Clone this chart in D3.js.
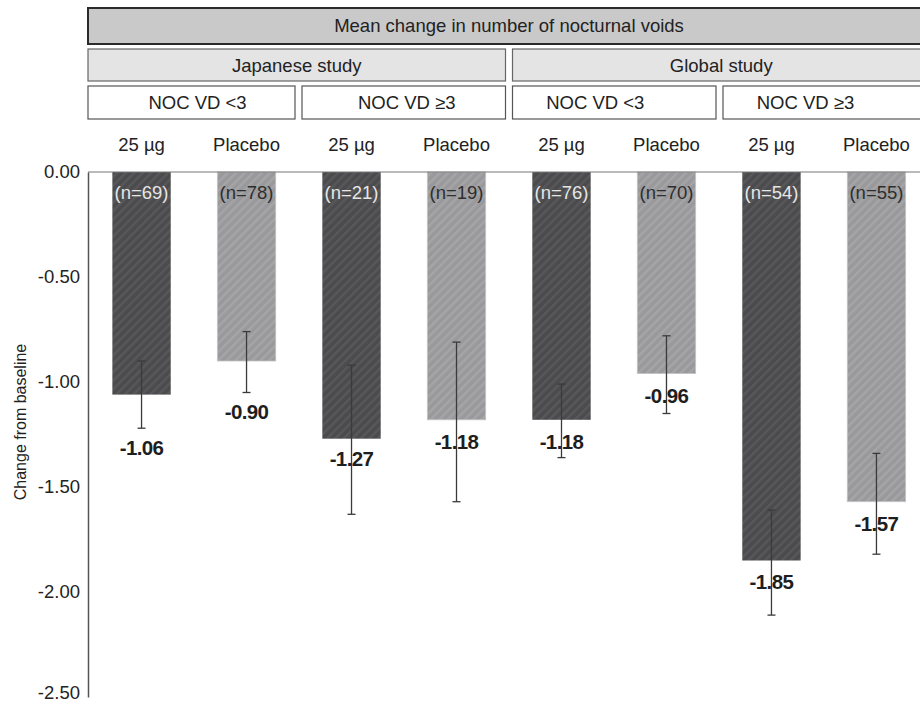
<!DOCTYPE html>
<html>
<head>
<meta charset="utf-8">
<script src="https://cdn.jsdelivr.net/npm/d3@7"></script>
<style>
  html, body { margin: 0; padding: 0; background: #fff; }
  svg { display: block; font-family: "Liberation Sans", Arial, Helvetica, sans-serif; }
</style>
</head>
<body>
<svg id="chart" width="920" height="705"></svg>
<script>
// ---------------- data ----------------
const title = "Mean change in number of nocturnal voids";
const studies = ["Japanese study", "Global study"];
const subgroups = ["NOC VD <3", "NOC VD \u22653", "NOC VD <3", "NOC VD \u22653"];
const categories = ["25 \u00b5g", "Placebo", "25 \u00b5g", "Placebo", "25 \u00b5g", "Placebo", "25 \u00b5g", "Placebo"];
const treatment = ["active", "placebo", "active", "placebo", "active", "placebo", "active", "placebo"];
const values = [-1.06, -0.90, -1.27, -1.18, -1.18, -0.96, -1.85, -1.57];
const errTop = [-0.90, -0.76, -0.92, -0.81, -1.01, -0.78, -1.61, -1.34];
const errBottom = [-1.22, -1.05, -1.63, -1.57, -1.36, -1.15, -2.11, -1.82];
const nLabels = ["(n=69)", "(n=78)", "(n=21)", "(n=19)", "(n=76)", "(n=70)", "(n=54)", "(n=55)"];
const yTicks = [0, -0.5, -1, -1.5, -2, -2.5];
const yTitle = "Change from baseline";

// ---------------- layout ----------------
const svg = d3.select("#chart");
const left = 88, right = 930, top0 = 172, bottom0 = 697;
const idx = d3.range(values.length);

const x = d3.scaleBand().domain(idx).range([left, right]).paddingInner(0.444).paddingOuter(0.232);
const y = d3.scaleLinear().domain([0, -2.5]).range([top0, bottom0]);

// patterns
const defs = svg.append("defs");
function hatch(id, base, stripe) {
  const p = defs.append("pattern").attr("id", id).attr("patternUnits", "userSpaceOnUse")
    .attr("width", 6).attr("height", 6).attr("patternTransform", "rotate(45)");
  p.append("rect").attr("width", 6).attr("height", 6).attr("fill", base);
  p.append("rect").attr("width", 2.4).attr("height", 6).attr("fill", stripe);
}
hatch("hatchDark", "#4b4b4d", "#58585a");
hatch("hatchLight", "#99999c", "#a5a5a8");

// ---------------- header boxes ----------------
const span = right - left;
svg.append("rect").attr("x", left).attr("y", 8).attr("width", span).attr("height", 36)
  .attr("fill", "#c9c9c9").attr("stroke", "#2b2b2b").attr("stroke-width", 2);
svg.append("text").attr("x", left + span / 2).attr("y", 26).attr("dy", "0.35em")
  .attr("text-anchor", "middle").attr("font-size", 18.5).attr("fill", "#222").text(title);

const gap = 7;
const W2 = span / studies.length;
studies.forEach((s, i) => {
  const x0 = left + i * W2 + (i > 0 ? gap / 2 : 0);
  const x1 = left + (i + 1) * W2 - (i < studies.length - 1 ? gap / 2 : 0);
  svg.append("rect").attr("x", x0).attr("y", 49).attr("width", x1 - x0).attr("height", 32)
    .attr("fill", "#e4e4e4").attr("stroke", "#666").attr("stroke-width", 1.2);
  svg.append("text").attr("x", (x0 + x1) / 2).attr("y", 66).attr("dy", "0.35em")
    .attr("text-anchor", "middle").attr("font-size", 18.5).attr("fill", "#222").text(s);
});

const W4 = span / subgroups.length;
const subTextShift = [6, 3, -19, -21];
subgroups.forEach((s, i) => {
  const x0 = left + i * W4 + (i > 0 ? gap / 2 : 0);
  const x1 = left + (i + 1) * W4 - (i < subgroups.length - 1 ? gap / 2 : 0);
  svg.append("rect").attr("x", x0).attr("y", 86).attr("width", x1 - x0).attr("height", 33)
    .attr("fill", "#fff").attr("stroke", "#555").attr("stroke-width", 1.2);
  svg.append("text").attr("x", (x0 + x1) / 2 + subTextShift[i]).attr("y", 103).attr("dy", "0.35em")
    .attr("text-anchor", "middle").attr("font-size", 18.5).attr("fill", "#222").text(s);
});

svg.append("g").selectAll("text").data(idx).join("text")
  .attr("x", i => x(i) + x.bandwidth() / 2).attr("y", 145).attr("dy", "0.35em")
  .attr("text-anchor", "middle").attr("font-size", 18.5).attr("fill", "#222")
  .text(i => categories[i]);

// ---------------- bars ----------------
svg.append("g").selectAll("rect").data(idx).join("rect")
  .attr("x", i => x(i)).attr("y", y(0))
  .attr("width", x.bandwidth())
  .attr("height", i => y(values[i]) - y(0))
  .attr("fill", i => treatment[i] === "active" ? "url(#hatchDark)" : "url(#hatchLight)")
  .attr("stroke", i => treatment[i] === "active" ? "none" : "#c4c4c6")
  .attr("stroke-width", 0.8);

svg.append("line").attr("x1", left).attr("x2", right).attr("y1", y(0)).attr("y2", y(0))
  .attr("stroke", "#777").attr("stroke-width", 1.2);

const yAxis = d3.axisLeft(y).tickValues(yTicks).tickSize(0).tickSizeOuter(0).tickPadding(8)
  .tickFormat(d => d.toFixed(2));
const ag = svg.append("g").attr("transform", `translate(${left},0)`).call(yAxis);
ag.select(".domain").attr("stroke", "#555").attr("stroke-width", 1.5);
ag.selectAll("text").attr("font-size", 18.5).attr("fill", "#222")
  .attr("dy", d => d === -2.5 ? "0.1em" : "0.28em")
  .attr("font-family", "'Liberation Sans', Arial, sans-serif");

svg.append("text").attr("transform", `translate(20,422) rotate(-90)`)
  .attr("text-anchor", "middle").attr("dy", "0.35em").attr("font-size", 16).attr("fill", "#222")
  .text(yTitle);

svg.append("g").selectAll("text").data(idx).join("text")
  .attr("x", i => x(i) + x.bandwidth() / 2).attr("y", 193).attr("dy", "0.35em")
  .attr("text-anchor", "middle").attr("font-size", 18.5)
  .attr("fill", i => treatment[i] === "active" ? "#e6e6e6" : "#2e2e2e")
  .text(i => nLabels[i]);

const eg = svg.append("g").attr("stroke", "#3a3a3a").attr("stroke-width", 1.3);
idx.forEach(i => {
  const cx = x(i) + x.bandwidth() / 2;
  eg.append("line").attr("x1", cx).attr("x2", cx).attr("y1", y(errTop[i])).attr("y2", y(errBottom[i]));
  eg.append("line").attr("x1", cx - 4).attr("x2", cx + 4).attr("y1", y(errTop[i])).attr("y2", y(errTop[i]));
  eg.append("line").attr("x1", cx - 4).attr("x2", cx + 4).attr("y1", y(errBottom[i])).attr("y2", y(errBottom[i]));
});

const labelDy = [53, 51, 20, 22, 22, 22, 21, 22];
svg.append("g").selectAll("text").data(idx).join("text")
  .attr("x", i => x(i) + x.bandwidth() / 2)
  .attr("y", i => y(values[i]) + labelDy[i]).attr("dy", "0.35em")
  .attr("text-anchor", "middle").attr("font-size", 20.5).attr("font-weight", "bold")
  .attr("letter-spacing", -0.6).attr("fill", "#1e1e1e")
  .text(i => values[i].toFixed(2));
</script>
</body>
</html>
